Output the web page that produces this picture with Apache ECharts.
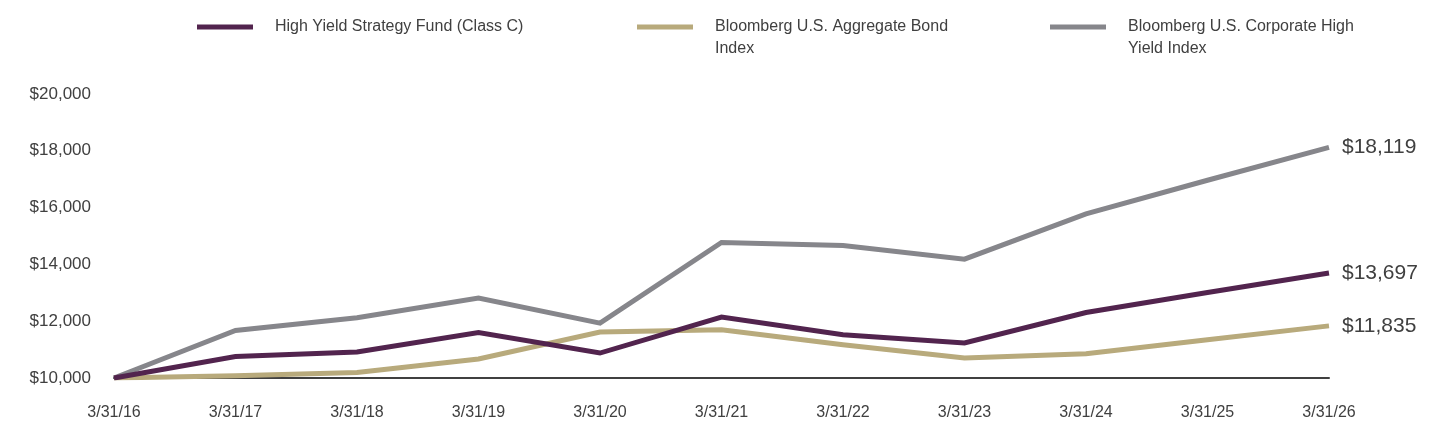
<!DOCTYPE html>
<html>
<head>
<meta charset="utf-8">
<script src="https://cdn.jsdelivr.net/npm/echarts@6/dist/echarts.min.js"></script>
<style>
  html, body { margin: 0; padding: 0; background: #fff; }
  #growthChart { width: 1440px; height: 444px; }
</style>
</head>
<body>
<div id="growthChart"></div>
<script>
var dates = ['3/31/16', '3/31/17', '3/31/18', '3/31/19', '3/31/20', '3/31/21',
             '3/31/22', '3/31/23', '3/31/24', '3/31/25', '3/31/26'];
var fundValues = [10000, 10760, 10914, 11605, 10879, 12145, 11523, 11231, 12308, 13011, 13697];
var aggValues  = [10000, 10081, 10197, 10668, 11618, 11699, 11171, 10703, 10855, 11347, 11835];
var hyValues   = [10000, 11674, 12121, 12814, 11934, 14770, 14665, 14186, 15779, 16964, 18119];
var seriesNames = ['High Yield Strategy Fund (Class C)',
                   'Bloomberg U.S. Aggregate Bond Index',
                   'Bloomberg U.S. Corporate High Yield Index'];
// a leading blank line keeps the first text line level with the legend swatch
var legendText = ['High Yield Strategy Fund (Class C)',
                  ' \nBloomberg U.S. Aggregate Bond\nIndex',
                  ' \nBloomberg U.S. Corporate High\nYield Index'];
var colors = ['#52244e', '#b8aa7c', '#86868b'];

var textFont = 'Liberation Sans, Arial, sans-serif';

function money(v) {
	return '$' + v.toLocaleString('en-US');
}

function makeLegend(i, left, top) {
	return {
		left: left,
		top: top,
		padding: 0,
		itemWidth: 56,
		itemHeight: 5,
		icon: 'rect',
		selectedMode: false,
		formatter: function () { return legendText[i]; },
		textStyle: {
			fontFamily: textFont,
			fontSize: 16,
			color: '#404040',
			lineHeight: 22,
			padding: [0, 0, 0, 17]
		},
		data: [seriesNames[i]]
	};
}

function makeSeries(i, values, z) {
	return {
		name: seriesNames[i],
		type: 'line',
		data: values,
		z: z,
		symbol: 'none',
		lineStyle: { color: colors[i], width: 5, cap: 'butt', join: 'miter' },
		itemStyle: { color: colors[i] },
		endLabel: {
			show: true,
			distance: 13,
			fontFamily: textFont,
			fontSize: 21,
			color: '#404040',
			formatter: function (p) { return money(p.value); }
		},
		emphasis: { disabled: true }
	};
}

var chart = echarts.init(document.getElementById('growthChart'));
var option = {
	animation: false,
	backgroundColor: '#fff',
	legend: [
		makeLegend(0, 197, 16),
		makeLegend(1, 637, -6),
		makeLegend(2, 1050, -6)
	],
	grid: {
		left: 114,
		right: 111,
		top: 94,
		bottom: 66,
		containLabel: false,
		outerBoundsMode: 'none'
	},
	xAxis: {
		type: 'category',
		boundaryGap: false,
		data: dates,
		axisLine: { lineStyle: { color: '#404040', width: 2 } },
		axisTick: { show: false },
		axisLabel: {
			margin: 27,
			fontFamily: textFont,
			fontSize: 16,
			color: '#404040'
		}
	},
	yAxis: {
		type: 'value',
		min: 10000,
		max: 20000,
		interval: 2000,
		axisLine: { show: false },
		axisTick: { show: false },
		splitLine: { show: false },
		axisLabel: {
			margin: 23,
			fontFamily: textFont,
			fontSize: 17,
			color: '#404040',
			formatter: money
		}
	},
	series: [
		makeSeries(0, fundValues, 4),
		makeSeries(1, aggValues, 3),
		makeSeries(2, hyValues, 2)
	]
};
chart.setOption(option);
</script>
</body>
</html>
